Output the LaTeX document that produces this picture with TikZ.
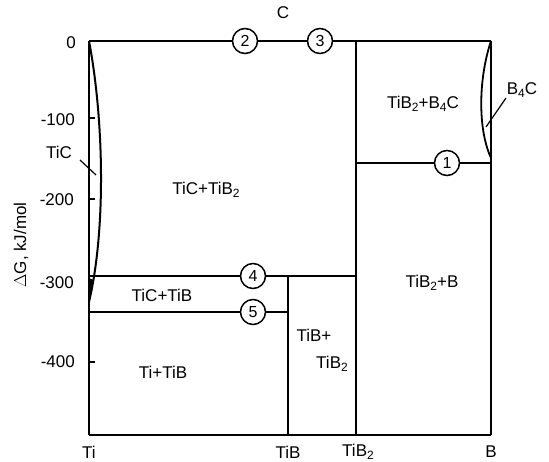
\documentclass[tikz,border=0pt]{standalone}
\usepackage{fontspec}
\setmainfont{Liberation Sans}
\newcommand{\lsub}[1]{\raisebox{-0.35ex}{\fontsize{12}{12}\selectfont #1}}
\begin{document}
\begin{tikzpicture}[x=1pt,y=-1pt,
  thickl/.style={line width=2.6pt},
  thinl/.style={line width=1.2pt},
  lbl/.style={font=\fontsize{17}{19}\selectfont, inner sep=0pt},
  num/.style={circle, draw, line width=1.5pt, fill=white, minimum size=25pt, inner sep=0pt, font=\fontsize{16}{16}\selectfont}]
\useasboundingbox (0,0) rectangle (549,462);
% frame corners and junctions
\coordinate (TL) at (89,41);
\coordinate (TR) at (491,41);
\coordinate (BL) at (89,435);
\coordinate (BR) at (491,435);
\coordinate (T2) at (356,41);
\coordinate (B2) at (356,435);
\coordinate (R1) at (491,163);
\coordinate (M1) at (356,163);
\coordinate (L4) at (89,276);
\coordinate (M4) at (356,276);
\coordinate (L5) at (89,312);
\coordinate (M5) at (288,312);
\coordinate (TB) at (288,276);
\coordinate (BB) at (288,435);
% circles
\node[num] (c2) at (245,41) {2};
\node[num] (c3) at (320,41) {3};
\node[num] (c1) at (447,163) {1};
\node[num] (c4) at (253,276) {4};
\node[num] (c5) at (253,312) {5};
% lines
\draw[thinl] (TR) -- (BR);
\draw[line width=1.6pt] (BL) -- (BR);
\draw[thickl] (TL) -- (BL);
\draw[thickl] (TL) -- (c2);
\draw[thinl] (c2) -- (c3);
\draw[thickl] (c3) -- (TR);
\draw[thickl] (T2) -- (B2);
\draw[thickl] (M1) -- (c1) -- (R1);
\draw[thickl] (L4) -- (c4) -- (M4);
\draw[thickl] (L5) -- (c5) -- (M5);
\draw[thinl] (TB) -- (BB);
% ticks
\foreach \yy in {118,199,362} \draw[thinl] (89,\yy) -- (95,\yy);
% TiC curve
\draw[line width=2pt] (TL) .. controls (104,120) and (106,230) .. (89,302);
\fill (89,278) -- (93,280) -- (89,305) -- cycle;
% B4C curve
\draw[line width=1.8pt] (TR) .. controls (478,80) and (478,130) .. (491,158);
% labels
\node[lbl] (C) at (283,13) {C};
\node[lbl] (TiC) at (59,152) {TiC};
\coordinate (tic1) at (96,175);
\draw[thinl] (80,160) -- (tic1);
\node[lbl] (B4C) at (522,90) {B\lsub{4}C};
\coordinate (b4c1) at (486,127);
\draw[thinl] (506,98) -- (b4c1);
\node[lbl, anchor=east] (y0) at (76,43) {0};
\node[lbl, anchor=east] (y1) at (75,120) {-100};
\node[lbl, anchor=east] (y2) at (74,200) {-200};
\node[lbl, anchor=east] (y3) at (74,283) {-300};
\node[lbl, anchor=east] (y4) at (75,362) {-400};
\node[lbl, rotate=90] (ylab) at (21,245) {$\Delta$G, kJ/mol};
\node[lbl] (xTi) at (89,452) {Ti};
\node[lbl] (xTiB) at (288,452) {TiB};
\node[lbl] (xTiB2) at (358,452) {TiB\lsub{2}};
\node[lbl] (xB) at (491,452) {B};
\node[lbl] (r1) at (206,190) {TiC+TiB\lsub{2}};
\node[lbl] (r2) at (423,104) {TiB\lsub{2}+B\lsub{4}C};
\node[lbl] (r3) at (432,283) {TiB\lsub{2}+B};
\node[lbl] (r4) at (162,295) {TiC+TiB};
\node[lbl] (r5) at (163,372) {Ti+TiB};
\node[lbl] (r6) at (314,335) {TiB+};
\node[lbl] (r7) at (332,364) {TiB\lsub{2}};
\end{tikzpicture}
\end{document}
